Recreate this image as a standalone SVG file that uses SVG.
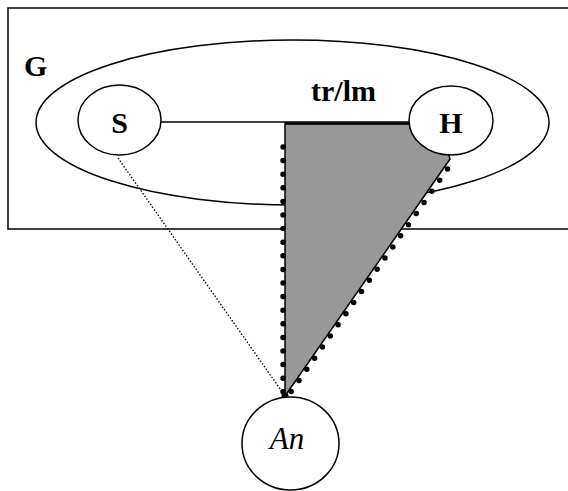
<svg xmlns="http://www.w3.org/2000/svg" width="568" height="491" viewBox="0 0 568 491">
<style>
.ln{fill:none;stroke:#000;stroke-width:1.5}
.nd{fill:#fff;stroke:#000;stroke-width:1.5}
.bt{font-family:'Liberation Serif','Times New Roman',Times,'DejaVu Serif',serif;font-weight:bold;font-size:30px;fill:#000}
.it{font-family:'Liberation Serif','Times New Roman',Times,'DejaVu Serif',serif;font-style:italic;font-size:31px;fill:#000}
.dots{fill:none;stroke:#000;stroke-width:5.5;stroke-linecap:round;stroke-dasharray:0 13.6}
</style>
<rect width="568" height="491" fill="#fff"/>
<g id="G">
<rect x="8" y="8" width="580" height="221" class="ln"/>
<ellipse cx="292.5" cy="122.5" rx="256.5" ry="82.5" class="ln"/>
<text x="24" y="76" class="bt">G</text>
</g>
<g id="connectors">
<line x1="161" y1="122" x2="409" y2="122" class="ln"/>
<line x1="118" y1="158" x2="283" y2="393" stroke="#000" stroke-width="1.3" stroke-dasharray="1.5 1.8"/>
<polygon points="285,123.5 440,123.5 450,159 285,396" fill="#989898" stroke="#000" stroke-width="1.5"/>
<line x1="285" y1="123.5" x2="440" y2="123.5" stroke="#000" stroke-width="2.5"/>
<line x1="283" y1="147" x2="283" y2="393" class="dots"/>
<line x1="447.5" y1="169" x2="289.5" y2="394" class="dots"/>
<circle cx="285" cy="396" r="3.5" fill="#000"/>
<text x="311" y="101" class="bt">tr/lm</text>
</g>
<g id="S">
<ellipse cx="119.5" cy="120" rx="41.5" ry="35" class="nd"/>
<text x="119.5" y="133" text-anchor="middle" class="bt">S</text>
</g>
<g id="H">
<ellipse cx="451" cy="120.5" rx="42" ry="34.5" class="nd"/>
<text x="451" y="133" text-anchor="middle" class="bt">H</text>
</g>
<g id="An">
<ellipse cx="290.5" cy="443.5" rx="48.5" ry="46.5" class="nd"/>
<text x="287" y="449" text-anchor="middle" class="it">An</text>
</g>
</svg>
